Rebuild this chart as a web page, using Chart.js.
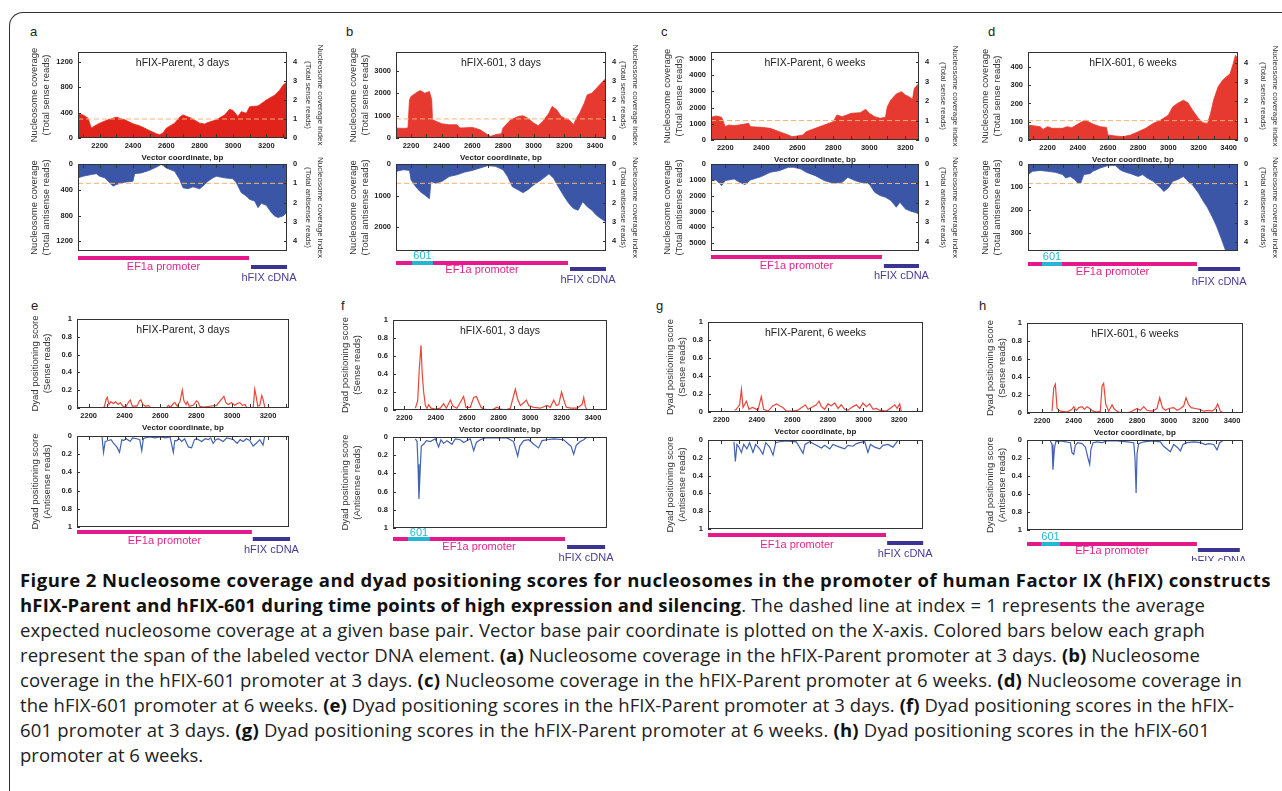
<!DOCTYPE html>
<html>
<head>
<meta charset="utf-8">
<script src="https://cdn.jsdelivr.net/npm/chart.js@4.4.1/dist/chart.umd.min.js"></script>
<style>
  body { margin: 0; width: 1282px; height: 791px; background: #fff; position: relative; overflow: hidden; font-family: "Liberation Sans", Arial, sans-serif; }
  .frame { position: absolute; left: 9px; top: 12px; width: 1300px; height: 800px; border-top: 1.5px solid #333; border-left: 1.5px solid #333; border-top-left-radius: 14px; }
  .box { position: absolute; }
  .letter { position: absolute; font-size: 13px; color: #222; }
  .cap { position: absolute; left: 20px; top: 567px; font-family: "Open Sans", sans-serif; font-size: 18.5px; line-height: 25px; color: #222; white-space: nowrap; }
  .cap > div { width: max-content; }
  .cap b { color: #111; }
</style>
</head>
<body>
<div class="frame"></div>
<div class="letter" style="left:30px;top:24px">a</div>
<div class="letter" style="left:346px;top:24px">b</div>
<div class="letter" style="left:661px;top:24px">c</div>
<div class="letter" style="left:988px;top:24px">d</div>
<div class="letter" style="left:31px;top:298px">e</div>
<div class="letter" style="left:341px;top:298px">f</div>
<div class="letter" style="left:656px;top:298px">g</div>
<div class="letter" style="left:979px;top:298px">h</div>

<div class="cap">
  <div><b>Figure 2 Nucleosome coverage and dyad positioning scores for nucleosomes in the promoter of human Factor IX (hFIX) constructs</b></div>
  <div><b>hFIX-Parent and hFIX-601 during time points of high expression and silencing</b>. The dashed line at index = 1 represents the average</div>
  <div>expected nucleosome coverage at a given base pair. Vector base pair coordinate is plotted on the X-axis. Colored bars below each graph</div>
  <div>represent the span of the labeled vector DNA element. <b>(a)</b> Nucleosome coverage in the hFIX-Parent promoter at 3 days. <b>(b)</b> Nucleosome</div>
  <div>coverage in the hFIX-601 promoter at 3 days. <b>(c)</b> Nucleosome coverage in the hFIX-Parent promoter at 6 weeks. <b>(d)</b> Nucleosome coverage in</div>
  <div>the hFIX-601 promoter at 6 weeks. <b>(e)</b> Dyad positioning scores in the hFIX-Parent promoter at 3 days. <b>(f)</b> Dyad positioning scores in the hFIX-</div>
  <div>601 promoter at 3 days. <b>(g)</b> Dyad positioning scores in the hFIX-Parent promoter at 6 weeks. <b>(h)</b> Dyad positioning scores in the hFIX-601</div>
  <div>promoter at 6 weeks.</div>
</div>

<script>
// ---- data (bp, reads / score) ----
var panelTitles = ['hFIX-Parent, 3 days', 'hFIX-601, 3 days', 'hFIX-Parent, 6 weeks', 'hFIX-601, 6 weeks'];

// x range of each panel a..h
var xMin = [2070, 2102, 2121, 2070, 2135, 2128, 2125, 2105];
var xMax = [3324, 3472, 3276, 3462, 3317, 3489, 3335, 3469];
var xTicksParent = [2200, 2400, 2600, 2800, 3000, 3200];
var xTicks601 = [2200, 2400, 2600, 2800, 3000, 3200, 3400];

// vector elements (bp spans) for panels a..h
var ef1aSpan = [[2070, 3096], [2102, 3224], [2121, 3070], [2070, 3190], [2135, 3110], [2128, 3222], [2125, 3127], [2105, 3178]];
var ins601Span = [null, [2206, 2343], null, [2163, 2295], null, [2223, 2363], null, [2193, 2313]];
var cdnaSpan = [[3108, 3324], [3237, 3472], [3081, 3276], [3198, 3476], [3115, 3323], [3235, 3477], [3133, 3336], [3184, 3449]];

// coverage axes (a..d)
var senseMax = [1360, 3850, 5430, 482];
var antiMax = [1350, 2760, 5500, 378];
var senseUnit = [300, 855, 1200, 106];   // reads at index = 1
var antiUnit = [300, 613, 1230, 85];
var senseTicks = [[0, 400, 800, 1200], [0, 1000, 2000, 3000], [0, 1000, 2000, 3000, 4000, 5000], [0, 100, 200, 300, 400]];
var antiTicks = [[0, 400, 800, 1200], [0, 1000, 2000], [0, 1000, 2000, 3000, 4000, 5000], [0, 100, 200, 300]];
var indexTicks = [0, 1, 2, 3, 4];
var dyadTicks = [0, 0.2, 0.4, 0.6, 0.8, 1];

// nucleosome coverage, [bp, reads]
var aSense = [[2070,380],[2100,365],[2130,313],[2150,156],[2170,190],[2200,235],[2250,287],[2300,330],[2350,287],[2400,224],[2450,183],[2500,115],[2540,68],[2560,52],[2580,78],[2600,156],[2650,235],[2680,330],[2700,365],[2750,313],[2800,235],[2830,220],[2850,245],[2900,287],[2950,365],[2980,454],[3000,433],[3030,340],[3050,417],[3080,390],[3100,495],[3150,506],[3200,600],[3250,678],[3280,756],[3300,834],[3324,887]];
var aAnti = [[2070,215],[2100,190],[2150,164],[2180,150],[2200,190],[2230,215],[2260,292],[2280,344],[2300,318],[2350,282],[2400,266],[2410,150],[2450,138],[2500,97],[2550,36],[2570,5],[2600,62],[2650,113],[2680,241],[2700,369],[2730,385],[2760,354],[2800,385],[2830,318],[2850,266],[2880,215],[2900,190],[2950,215],[3000,230],[3020,292],[3050,446],[3080,497],[3100,549],[3130,574],[3150,677],[3170,610],[3200,641],[3230,754],[3250,805],[3270,830],[3300,805],[3324,754]];
var bSense = [[2102,446],[2150,430],[2180,446],[2190,1709],[2200,1857],[2230,2006],[2260,2125],[2290,2006],[2320,2080],[2335,1709],[2340,817],[2400,639],[2450,594],[2500,594],[2520,446],[2600,475],[2650,371],[2700,149],[2720,74],[2750,149],[2790,193],[2800,446],[2850,817],[2900,966],[2930,996],[2960,892],[3000,669],[3030,550],[3060,743],[3100,1114],[3120,1412],[3150,1263],[3180,966],[3200,892],[3230,817],[3260,594],[3280,892],[3300,1114],[3330,1560],[3350,1932],[3380,2006],[3410,2229],[3440,2452],[3472,2674]];
var bAnti = [[2102,235],[2150,182],[2190,203],[2200,503],[2230,717],[2260,877],[2290,984],[2310,1059],[2320,1100],[2330,556],[2360,610],[2400,556],[2450,396],[2500,342],[2550,257],[2600,203],[2650,128],[2700,53],[2750,75],[2800,182],[2830,396],[2860,717],[2900,824],[2930,909],[2960,824],[3000,663],[3050,503],[3100,310],[3130,449],[3160,717],[3200,1037],[3230,1251],[3260,1412],[3290,1465],[3320,1198],[3350,1358],[3380,1465],[3410,1626],[3440,1733],[3472,1840]];
var cSense = [[2121,1399],[2150,1481],[2180,1399],[2200,823],[2220,926],[2250,885],[2300,967],[2330,1029],[2340,823],[2400,782],[2450,720],[2500,514],[2550,309],[2570,206],[2600,247],[2630,309],[2650,514],[2700,720],[2750,926],[2800,1132],[2820,1543],[2850,1440],[2900,1646],[2950,1687],[2980,1893],[3000,1646],[3030,1440],[3060,1337],[3090,1399],[3100,2058],[3120,2469],[3150,2840],[3180,2984],[3200,2778],[3220,2675],[3240,2510],[3250,3189],[3276,3498]];
var cAnti = [[2121,1050],[2150,1008],[2180,1366],[2200,1050],[2250,945],[2280,1155],[2310,1303],[2340,1008],[2400,798],[2450,525],[2500,420],[2550,210],[2580,210],[2620,315],[2650,525],[2700,735],[2750,1050],[2800,1218],[2850,1155],[2880,840],[2920,1050],[2950,1155],[3000,1260],[3030,1786],[3060,1996],[3090,2100],[3120,2311],[3150,2731],[3170,2416],[3200,2836],[3230,2983],[3250,3046],[3276,3151]];
var dSense = [[2070,82],[2150,73],[2170,58],[2200,73],[2230,64],[2300,64],[2330,73],[2360,67],[2400,87],[2450,109],[2500,87],[2550,73],[2590,69],[2600,27],[2650,22],[2700,18],[2750,27],[2800,45],[2850,64],[2900,91],[2950,109],[3000,136],[3030,182],[3060,200],[3100,218],[3130,204],[3160,164],[3200,118],[3230,95],[3260,91],[3280,145],[3300,218],[3330,291],[3360,327],[3390,349],[3410,364],[3430,418],[3445,464],[3462,445]];
var dAnti = [[2070,46],[2100,32],[2150,28],[2200,32],[2250,36],[2300,46],[2320,61],[2350,54],[2380,68],[2400,83],[2420,83],[2440,46],[2480,42],[2500,32],[2550,17],[2600,7],[2650,7],[2680,25],[2700,32],[2750,42],[2800,54],[2830,46],[2860,61],[2900,75],[2950,104],[2970,119],[3000,104],[3030,75],[3060,68],[3100,54],[3130,75],[3160,90],[3200,126],[3230,160],[3260,190],[3290,228],[3320,270],[3350,322],[3370,358],[3385,385],[3462,390]];

// dyad positioning score, [bp, score]; null = no reads
var eSense = [[2274,0],[2287,0.01],[2298,0.10],[2304,0.12],[2313,0.04],[2324,0.07],[2339,0.05],[2350,0.07],[2365,0.04],[2376,0.06],[2391,0.02],[2406,0.01],[2424,0.07],[2432,0.09],[2443,0.02],[2469,0.02],[2483,0.08],[2491,0.09],[2502,0.04],[2517,0.02],[2533,0.03],[2546,0],[2590,null],[2635,0],[2644,0.03],[2657,0.01],[2672,0.05],[2681,0.06],[2694,0.02],[2709,0.07],[2722,0.20],[2731,0.08],[2743,0.04],[2750,0.07],[2761,0.02],[2783,0.03],[2802,0.08],[2809,0.07],[2820,0.02],[2839,0.01],[2876,0.02],[2913,0.03],[2941,0.10],[2954,0.13],[2965,0.06],[2978,0.04],[2996,0.06],[3015,0.03],[3028,0.05],[3043,0.06],[3057,0.03],[3072,0.04],[3083,0],[3100,null],[3117,0],[3126,0.21],[3132,0.15],[3143,0.02],[3154,0.03],[3165,0.14],[3172,0.10],[3183,0]];
var eAnti = [[2274,0],[2283,0.18],[2292,0.06],[2311,0.05],[2325,0.04],[2339,0.08],[2357,0.12],[2372,0.18],[2385,0.04],[2394,0.05],[2410,0.03],[2431,0.06],[2445,0.02],[2469,0.03],[2485,0.04],[2496,0.16],[2505,0.03],[2515,0.02],[2543,0.01],[2570,0.02],[2598,0.01],[2630,0.02],[2654,0.01],[2672,0.18],[2680,0.05],[2691,0.05],[2705,0.03],[2719,0.06],[2735,0.03],[2756,0.12],[2774,0.13],[2790,0.04],[2802,0.03],[2830,0.06],[2850,0.03],[2867,0.04],[2880,0.02],[2894,0.08],[2910,0.04],[2922,0.03],[2950,0.06],[2970,0.02],[2990,0.03],[3006,0.04],[3028,0.08],[3045,0.04],[3061,0.06],[3080,0.03],[3098,0.05],[3117,0.11],[3135,0.08],[3154,0.04],[3172,0.10],[3182,0]];
var fSense = [[2270,0.02],[2285,0.10],[2295,0.45],[2306,0.72],[2314,0.40],[2323,0.20],[2334,0.05],[2344,0.02],[2355,0.06],[2370,0.02],[2397,0.01],[2429,0.02],[2450,0.07],[2467,0.02],[2493,0.11],[2510,0.04],[2535,0.02],[2577,0.15],[2592,0.03],[2620,0.03],[2641,0.14],[2658,0.15],[2673,0.09],[2688,0.03],[2705,0.01],[2747,0],[2768,0.01],[2789,0.03],[2811,0.01],[2842,0],[2874,0.02],[2906,0.23],[2921,0.12],[2938,0.05],[2959,0.08],[2976,0.11],[2991,0.05],[3023,0.03],[3065,0.02],[3107,0.05],[3128,0.03],[3150,0.11],[3167,0.05],[3182,0.06],[3200,0.20],[3213,0.12],[3230,0.03],[3260,0.02],[3298,0.02],[3330,0.06],[3341,0.14],[3351,0.04],[3362,0]];
var fAnti = [[2270,0.02],[2281,0.05],[2287,0.30],[2293,0.68],[2300,0.40],[2308,0.10],[2323,0.08],[2340,0.04],[2365,0.05],[2397,0.02],[2418,0.11],[2433,0.03],[2450,0.07],[2471,0.04],[2503,0.08],[2524,0.02],[2556,0.03],[2577,0.06],[2620,0.02],[2641,0.15],[2658,0.06],[2683,0.03],[2715,0.01],[2768,0.01],[2853,0.01],[2895,0.05],[2921,0.21],[2934,0.10],[2959,0.04],[2991,0.03],[3023,0.08],[3054,0.12],[3076,0.04],[3107,0.03],[3150,0.02],[3213,0.03],[3245,0.08],[3260,0.10],[3277,0.19],[3294,0.09],[3319,0.05],[3341,0.03],[3362,0]];
var gSense = [[2275,0.02],[2284,0.03],[2303,0.08],[2313,0.25],[2322,0.05],[2341,0.12],[2356,0.03],[2374,0.05],[2388,0.04],[2406,0.02],[2425,0.17],[2438,0.03],[2463,0.01],[2491,0.07],[2510,0.09],[2528,0.07],[2547,0.05],[2566,0.01],[2603,0.01],[2631,0.02],[2660,0.06],[2673,0.08],[2688,0.03],[2707,0.05],[2735,0.08],[2750,0.12],[2763,0.06],[2782,0.03],[2800,0.09],[2819,0.07],[2838,0.10],[2857,0.04],[2875,0.08],[2894,0.03],[2913,0.02],[2941,0.06],[2960,0.08],[2979,0.04],[2997,0.10],[3016,0.06],[3035,0.09],[3054,0.03],[3072,0.04],[3091,0.02],[3129,0.01],[3157,0.05],[3176,0.08],[3189,0.04],[3204,0.09],[3213,0]];
var gAnti = [[2271,0.02],[2279,0.24],[2288,0.05],[2299,0.08],[2313,0.14],[2326,0.05],[2344,0.10],[2359,0.03],[2378,0.14],[2393,0.05],[2416,0.10],[2434,0.16],[2450,0.03],[2472,0.08],[2491,0.17],[2506,0.03],[2528,0.02],[2566,0.01],[2622,0.02],[2660,0.15],[2671,0.05],[2697,0.02],[2735,0.06],[2763,0.09],[2782,0.06],[2810,0.10],[2828,0.05],[2866,0.08],[2894,0.10],[2913,0.06],[2941,0.07],[2960,0.04],[2979,0.03],[3007,0.02],[3025,0.14],[3039,0.05],[3063,0.08],[3091,0.10],[3110,0.06],[3138,0.05],[3166,0.08],[3185,0.03],[3194,0]];
var hSense = [[2263,0.02],[2274,0.28],[2284,0.32],[2295,0.05],[2316,0.02],[2358,0.01],[2389,0.04],[2400,0.07],[2417,0.03],[2432,0.06],[2453,0.07],[2467,0.04],[2484,0.07],[2501,0.05],[2522,0.02],[2547,0.01],[2568,0.02],[2579,0.30],[2589,0.33],[2602,0.10],[2621,0.02],[2642,0.09],[2657,0.04],[2684,0.01],[2737,0],[2768,0.02],[2800,0.05],[2821,0.03],[2842,0.07],[2863,0.03],[2895,0.02],[2926,0.05],[2943,0.17],[2960,0.06],[2979,0.03],[3000,0.05],[3031,0.06],[3053,0.03],[3074,0.05],[3095,0.08],[3109,0.17],[3124,0.10],[3141,0.06],[3168,0.05],[3196,0.04],[3221,0.02],[3253,0.03],[3274,0.02],[3295,0.05],[3309,0.10],[3326,0.02],[3347,0]];
var hAnti = [[2253,0.01],[2263,0.05],[2269,0.33],[2278,0.10],[2286,0.02],[2316,0.01],[2379,0.03],[2389,0.14],[2400,0.16],[2410,0.06],[2425,0.03],[2453,0.04],[2474,0.08],[2490,0.20],[2501,0.27],[2509,0.10],[2522,0.03],[2547,0.02],[2579,0.03],[2610,0.01],[2674,0.01],[2737,0.02],[2779,0.03],[2787,0.20],[2794,0.59],[2800,0.15],[2810,0.04],[2842,0.02],[2895,0.01],[2947,0.02],[2968,0.07],[2989,0.10],[3010,0.13],[3031,0.05],[3053,0.08],[3074,0.12],[3090,0.05],[3116,0.03],[3158,0.02],[3200,0.03],[3231,0.05],[3253,0.04],[3284,0.05],[3305,0.11],[3322,0.03],[3347,0]];

var covSense = [aSense, bSense, cSense, dSense];
var covAnti = [aAnti, bAnti, cAnti, dAnti];
var dyadSense = [eSense, fSense, gSense, hSense];
var dyadAnti = [eAnti, fAnti, gAnti, hAnti];

// ---- layout: plot rectangles [left, top, right, bottom] in page px ----
var panels = [
  { top: [78, 52, 287, 138], bot: [78, 164, 287, 251], lOff: 44, rOff: 33, dy: [7, 16, 16, 27, 0] },
  { top: [396, 52, 606, 138], bot: [396, 164, 606, 251], lOff: 43, rOff: 29, dy: [12, 18, 19, 29, 5] },
  { top: [711, 52, 919, 140], bot: [711, 164, 919, 251], lOff: 44, rOff: 36, dy: [6, 15, 15, 25, 0] },
  { top: [1028, 52, 1238, 140], bot: [1028, 164, 1238, 251], lOff: 43, rOff: 37, dy: [13, 18, 21, 31, 6] },
  { top: [77, 319, 289, 408], bot: [77, 436, 289, 527], lOff: 42, dy: [5, 12, 14, 23, 0] },
  { top: [393, 320, 607, 410], bot: [393, 437, 607, 528], lOff: 48, dy: [11, 19, 19, 30, 5] },
  { top: [708, 322, 923, 412], bot: [708, 440, 923, 529], lOff: 38, dy: [6, 14, 16, 25, 0] },
  { top: [1027, 323, 1243, 413], bot: [1027, 440, 1243, 530], lOff: 37, dy: [14, 20, 21, 31, 7] }
];
// right edge (page px) each caption line should reach
var captionRight = [1271, 1205, 1205, 1200, 1242, 1234, 1210];

var RED = '#e6392f', RED_A = '#e2231b', BLUE = '#3b56a6';
var LINE_RED = '#e8463a', LINE_BLUE = '#4262b4';

Chart.defaults.font.family = '"Liberation Sans", Arial, sans-serif';
Chart.defaults.color = '#222';

var decor = {
  id: 'decor',
  afterDatasetsDraw: function (chart, args, o) {
    var ctx = chart.ctx, a = chart.chartArea, x = chart.scales.x, y = chart.scales.y, y2 = chart.scales.y2;
    ctx.save();
    if (o.unit) {
      var py = y.getPixelForValue(o.unit);
      ctx.strokeStyle = '#f3b274';
      ctx.lineWidth = 1;
      ctx.setLineDash([5, 3]);
      ctx.beginPath(); ctx.moveTo(a.left, py); ctx.lineTo(a.right, py); ctx.stroke();
      ctx.setLineDash([]);
    }
    ctx.strokeStyle = '#333';
    ctx.lineWidth = 1;
    ctx.strokeRect(a.left + 0.5, a.top + 0.5, a.right - a.left - 1, a.bottom - a.top - 1);
    ctx.beginPath();
    var ey = o.flip ? a.top : a.bottom, dir = o.flip ? 1 : -1;
    for (var v = Math.ceil(x.min / 100) * 100; v <= x.max; v += 100) {
      var px = Math.round(x.getPixelForValue(v)) + 0.5;
      ctx.moveTo(px, ey); ctx.lineTo(px, ey + dir * 4);
    }
    y.ticks.forEach(function (t) {
      var p = Math.round(y.getPixelForValue(t.value)) + 0.5;
      ctx.moveTo(a.left, p); ctx.lineTo(a.left + 3, p);
    });
    if (y2) y2.ticks.forEach(function (t) {
      var p = Math.round(y2.getPixelForValue(t.value)) + 0.5;
      ctx.moveTo(a.right, p); ctx.lineTo(a.right - 3, p);
    });
    ctx.stroke();
    ctx.textAlign = 'center';
    ctx.textBaseline = 'middle';
    if (o.title) {
      ctx.fillStyle = '#222';
      ctx.font = '10.5px "Liberation Sans", Arial, sans-serif';
      ctx.fillText(o.title, (a.left + a.right) / 2, a.top + 11);
    }
    if (o.bars) {
      var b = o.bars, base = a.bottom;
      ctx.font = '11px "Liberation Sans", Arial, sans-serif';
      var seg = function (span, dy, col) {
        var x1 = x.getPixelForValue(span[0]), x2 = x.getPixelForValue(span[1]);
        ctx.fillStyle = col;
        ctx.fillRect(x1, base + dy - 2, x2 - x1, 4);
        return (x1 + x2) / 2;
      };
      var c1 = seg(b.ef1a, b.dy[0], '#e5198a');
      if (b.ins) {
        var ci = seg(b.ins, b.dy[0], '#27b5d6');
        ctx.fillStyle = '#27b5d6';
        ctx.fillText('601', ci, base + b.dy[4]);
      }
      var c2 = seg(b.cdna, b.dy[1], '#3b3492');
      ctx.fillStyle = '#e2268c';
      ctx.fillText('EF1a promoter', c1, base + b.dy[2]);
      ctx.fillStyle = '#4a3c98';
      ctx.fillText('hFIX cDNA', c2, base + b.dy[3]);
    }
    ctx.restore();
  }
};

var tickFont = { size: 7.5, weight: 'bold' };
var titleFont = { size: 9.5, lineHeight: 1.35 };
var rightTitleFont = { size: 8, lineHeight: 1.5 };

function makeChart(rect, o) {
  var padL = 70, padR = o.y2max ? 56 : 22, padT = 45, padB = o.padB;
  var div = document.createElement('div');
  div.className = 'box';
  div.style.left = (rect[0] - padL) + 'px';
  div.style.top = (rect[1] - padT) + 'px';
  div.style.width = (rect[2] - rect[0] + padL + padR) + 'px';
  div.style.height = (rect[3] - rect[1] + padT + padB) + 'px';
  var canvas = document.createElement('canvas');
  div.appendChild(canvas);
  document.body.appendChild(div);

  var leftW = o.lOff + 6.4, rightW = o.y2max ? o.rOff + 6 : 0, xH = o.xTitle ? 25 : 0;
  var scales = {
    x: {
      type: 'linear', min: o.xmin, max: o.xmax, display: !!o.xTitle,
      grid: { display: false, drawTicks: false }, border: { display: false },
      afterBuildTicks: function (s) { s.ticks = o.xticks.map(function (v) { return { value: v }; }); },
      ticks: { autoSkip: false, maxRotation: 0, minRotation: 0, padding: 3, font: tickFont, color: '#222', callback: function (v) { return String(v); } },
      title: { display: !!o.xTitle, text: o.xTitle, font: { size: 8, weight: 'bold', lineHeight: 1.2 }, padding: 0, color: '#222' },
      afterFit: function (s) { s.height = xH; }
    },
    y: {
      type: 'linear', position: 'left', min: 0, max: o.ymax, reverse: !!o.flip,
      grid: { display: false, drawTicks: false }, border: { display: false },
      afterBuildTicks: function (s) { s.ticks = o.yticks.map(function (v) { return { value: v }; }); },
      ticks: { autoSkip: false, padding: 5, font: tickFont, color: '#222', callback: function (v) { return String(v); } },
      title: { display: true, text: o.yTitle, font: titleFont, padding: 0, color: '#333' },
      afterFit: function (s) { s.width = leftW; }
    }
  };
  if (o.y2max) {
    scales.y2 = {
      type: 'linear', position: 'right', min: 0, max: o.y2max, reverse: !!o.flip,
      grid: { display: false, drawTicks: false }, border: { display: false },
      afterBuildTicks: function (s) { s.ticks = indexTicks.map(function (v) { return { value: v }; }); },
      ticks: { autoSkip: false, padding: 6, font: tickFont, color: '#222', callback: function (v) { return String(v); } },
      title: { display: true, text: o.y2Title, font: rightTitleFont, padding: 0, color: '#333' },
      afterFit: function (s) { s.width = rightW; }
    };
  }
  var ds = o.area ? {
    data: o.data, fill: 'origin', backgroundColor: o.color, borderColor: o.color, borderWidth: 0.8,
    pointRadius: 0, tension: 0
  } : {
    data: o.data, fill: false, borderColor: o.color, borderWidth: 1.2, pointRadius: 0, tension: 0, spanGaps: false
  };
  return new Chart(canvas, {
    type: 'line',
    data: { datasets: [ds] },
    options: {
      responsive: true, maintainAspectRatio: false, animation: false,
      layout: { padding: { left: padL - leftW, right: padR - rightW, top: padT, bottom: padB - xH } },
      scales: scales,
      plugins: {
        legend: { display: false }, tooltip: { enabled: false },
        decor: { unit: o.unit, flip: !!o.flip, title: o.title, bars: o.bars }
      }
    },
    plugins: [decor]
  });
}

// coverage panels a..d
for (var i = 0; i < 4; i++) {
  var p = panels[i], xt = (i % 2) ? xTicks601 : xTicksParent;
  makeChart(p.top, {
    xmin: xMin[i], xmax: xMax[i], xticks: xt, xTitle: 'Vector coordinate, bp',
    ymax: senseMax[i], yticks: senseTicks[i], y2max: senseMax[i] / senseUnit[i], unit: senseUnit[i],
    yTitle: ['Nucleosome coverage', '(Total sense reads)'], y2Title: ['Nucleosome coverage index', '(Total sense reads)'],
    lOff: p.lOff, rOff: p.rOff, padB: 40, area: true, data: covSense[i], color: i === 0 ? RED_A : RED,
    title: panelTitles[i]
  });
  makeChart(p.bot, {
    xmin: xMin[i], xmax: xMax[i], xticks: xt, flip: true,
    ymax: antiMax[i], yticks: antiTicks[i], y2max: antiMax[i] / antiUnit[i], unit: antiUnit[i],
    yTitle: ['Nucleosome coverage', '(Total antisense reads)'], y2Title: ['Nucleosome coverage index', '(Total antisense reads)'],
    lOff: p.lOff, rOff: p.rOff, padB: 40, area: true, data: covAnti[i], color: BLUE,
    bars: { ef1a: ef1aSpan[i], ins: ins601Span[i], cdna: cdnaSpan[i], dy: p.dy }
  });
}

// dyad panels e..h
for (var j = 0; j < 4; j++) {
  var k = j + 4, q = panels[k], xt2 = (j % 2) ? xTicks601 : xTicksParent;
  makeChart(q.top, {
    xmin: xMin[k], xmax: xMax[k], xticks: xt2, xTitle: 'Vector coordinate, bp',
    ymax: 1, yticks: dyadTicks, yTitle: ['Dyad positioning score', '(Sense reads)'],
    lOff: q.lOff, padB: 40, data: dyadSense[j], color: LINE_RED, title: panelTitles[j]
  });
  makeChart(q.bot, {
    xmin: xMin[k], xmax: xMax[k], xticks: xt2, flip: true,
    ymax: 1, yticks: dyadTicks, yTitle: ['Dyad positioning score', '(Antisense reads)'],
    lOff: q.lOff, padB: 561 - q.bot[3], data: dyadAnti[j], color: LINE_BLUE,
    bars: { ef1a: ef1aSpan[k], ins: ins601Span[k], cdna: cdnaSpan[k], dy: q.dy }
  });
}

// stretch or squeeze each caption line to the width it has in the figure
function fitCaption() {
  var lines = document.querySelectorAll('.cap > div');
  lines.forEach(function (d, n) {
    if (captionRight[n] === undefined) return;
    d.style.letterSpacing = '0px';
    var w = d.getBoundingClientRect().width;
    var target = captionRight[n] - 20;
    d.style.letterSpacing = ((target - w) / d.textContent.trim().length).toFixed(3) + 'px';
  });
}
fitCaption();
if (document.fonts && document.fonts.ready) document.fonts.ready.then(fitCaption);
</script>
</body>
</html>
